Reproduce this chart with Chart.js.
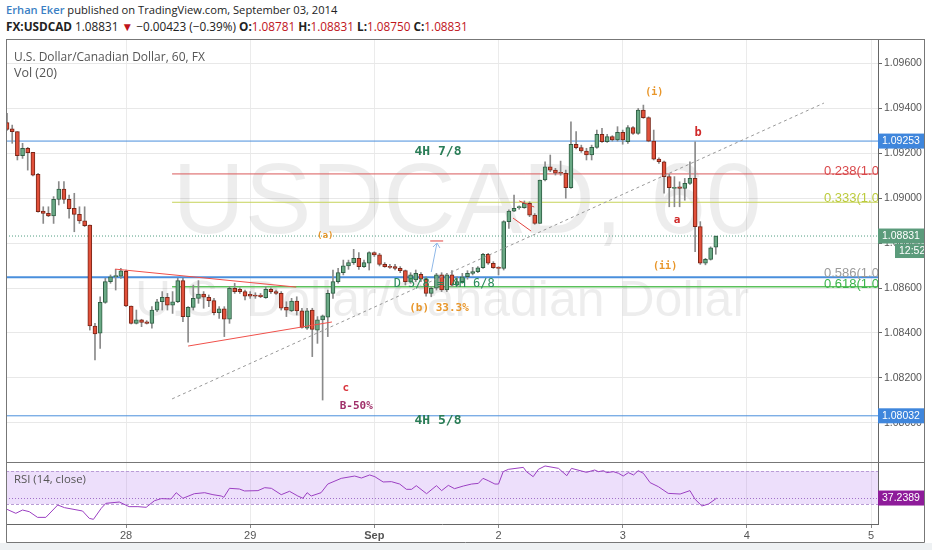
<!DOCTYPE html>
<html>
<head>
<meta charset="utf-8">
<script src="https://cdn.jsdelivr.net/npm/chart.js@4.4.1/dist/chart.umd.min.js"></script>
<style>
  body { margin: 0; width: 932px; height: 550px; background: #fff; position: relative; overflow: hidden; font-family: "Open Sans", Lato, sans-serif; }
  .fit { position: absolute; white-space: nowrap; display: inline-block; }
  #line1 { left: 6px; top: 2px; font-size: 12px; color: #222; }
  #line1 .author { color: #3b7fc4; font-weight: 600; }
  #line2 { left: 6px; top: 18px; font-size: 12.5px; color: #222; }
  #line2 b { font-weight: bold; }
  #line2 .r { color: #c0141b; }
  #line2 .dn { color: #c0141b; }
  #mainBox { position: absolute; left: 0; top: 39px; }
  #rsiBox { position: absolute; left: 0; top: 463px; }
  .pane { left: 14px; font-size: 12.5px; color: #555; }
  #foot { position: absolute; left: 0; top: 543px; width: 932px; height: 7px; background: #eef1f3; }
</style>
</head>
<body>
<div id="line1" class="fit" data-w="332"><span class="author">Erhan Eker</span> published on TradingView.com, September 03, 2014</div>
<div id="line2" class="fit" data-w="462"><b>FX:USDCAD</b> 1.08831 <span class="dn">▼</span> −0.00423 (−0.39%) <b>O:</b><span class="r">1.08781</span> <b>H:</b><span class="r">1.08831</span> <b>L:</b><span class="r">1.08750</span> <b>C:</b><span class="r">1.08831</span></div>
<canvas id="mainBox" width="925" height="424"></canvas>
<canvas id="rsiBox" width="925" height="80"></canvas>
<div class="pane fit" data-w="191" style="top:48px">U.S. Dollar/Canadian Dollar, 60, FX</div>
<div class="pane fit" style="top:64px">Vol (20)</div>
<div class="pane fit" data-w="72" style="top:471px;font-size:11.5px">RSI (14, close)</div>
<div id="foot"></div>
<script>
// scale header texts to the widths they take in the picture
document.querySelectorAll('.fit[data-w]').forEach(el => {
  const w = el.getBoundingClientRect().width;
  const fs = parseFloat(getComputedStyle(el).fontSize);
  const target = parseFloat(el.dataset.w);
  const nfs = Math.min(fs * target / w, fs * 1.2);
  el.style.fontSize = nfs + 'px';
  const w2 = el.getBoundingClientRect().width;
  const chars = el.textContent.length;
  if (w2 < target - 2) el.style.letterSpacing = ((target - w2) / chars) + 'px';
});

// hours counted from Aug 28 00:00, one candle per hour
const firstHour = -23;
const dayHours = [0, 24, 48, 72, 96, 120, 144];
const dayNames = ['28', '29', 'Sep', '2', '3', '4', '5'];

const opens = [
  1.09335, 1.09307, 1.09295, 1.09188, 1.09221, 1.09203, 1.09105, 1.08942, 1.08932, 1.08920,
  1.08994, 1.09040, 1.08994, 1.08954, 1.08927, 1.08898, 1.08880, 1.08431, 1.08399, 1.08536,
  1.08628, 1.08650, 1.08653, 1.08674, 1.08520, 1.08443, 1.08458, 1.08450, 1.08443, 1.08502,
  1.08539, 1.08559, 1.08524, 1.08539, 1.08633, 1.08473, 1.08514, 1.08554, 1.08573, 1.08559,
  1.08544, 1.08490, 1.08507, 1.08461, 1.08599, 1.08594, 1.08584, 1.08572, 1.08569, 1.08569,
  1.08557, 1.08594, 1.08584, 1.08576, 1.08514, 1.08498, 1.08542, 1.08498, 1.08421, 1.08502,
  1.08413, 1.08458, 1.08470, 1.08576, 1.08628, 1.08668, 1.08698, 1.08713, 1.08732, 1.08695,
  1.08710, 1.08757, 1.08747, 1.08705, 1.08695, 1.08695, 1.08687, 1.08677, 1.08628, 1.08636,
  1.08661, 1.08639, 1.08576, 1.08599, 1.08658, 1.08591, 1.08658, 1.08613, 1.08628, 1.08650,
  1.08665, 1.08673, 1.08690, 1.08750, 1.08710, 1.08690, 1.08687, 1.08895, 1.08942, 1.08957,
  1.08957, 1.08976, 1.08924, 1.08887, 1.09080, 1.09139, 1.09124, 1.09113, 1.09110, 1.09046,
  1.09239, 1.09224, 1.09209, 1.09191, 1.09225, 1.09283, 1.09250, 1.09273, 1.09258, 1.09292,
  1.09250, 1.09313, 1.09287, 1.09391, 1.09357, 1.09253, 1.09173, 1.09161, 1.09095, 1.09043,
  1.09050, 1.09043, 1.09065, 1.09087, 1.08873, 1.08710, 1.08727, 1.08781
];
const highs = [
  1.09376, 1.09324, 1.09295, 1.09243, 1.09225, 1.09203, 1.09110, 1.08961, 1.08961, 1.09006,
  1.09073, 1.09073, 1.09013, 1.09021, 1.08961, 1.08961, 1.08880, 1.08443, 1.08561, 1.08643,
  1.08658, 1.08683, 1.08687, 1.08680, 1.08520, 1.08502, 1.08461, 1.08455, 1.08517, 1.08550,
  1.08584, 1.08576, 1.08584, 1.08643, 1.08643, 1.08517, 1.08613, 1.08633, 1.08584, 1.08569,
  1.08554, 1.08517, 1.08517, 1.08606, 1.08621, 1.08601, 1.08591, 1.08584, 1.08579, 1.08576,
  1.08606, 1.08601, 1.08591, 1.08584, 1.08539, 1.08554, 1.08561, 1.08510, 1.08510, 1.08510,
  1.08473, 1.08480, 1.08591, 1.08680, 1.08687, 1.08724, 1.08724, 1.08772, 1.08757, 1.08724,
  1.08761, 1.08761, 1.08754, 1.08713, 1.08705, 1.08705, 1.08695, 1.08680, 1.08668, 1.08680,
  1.08668, 1.08650, 1.08606, 1.08665, 1.08668, 1.08665, 1.08677, 1.08650, 1.08665, 1.08677,
  1.08692, 1.08695, 1.08754, 1.08754, 1.08717, 1.08695, 1.08899, 1.08947, 1.09013, 1.08965,
  1.08987, 1.08983, 1.08931, 1.09080, 1.09161, 1.09191, 1.09132, 1.09164, 1.09124, 1.09339,
  1.09295, 1.09235, 1.09221, 1.09235, 1.09302, 1.09310, 1.09283, 1.09277, 1.09317, 1.09302,
  1.09322, 1.09317, 1.09398, 1.09413, 1.09361, 1.09302, 1.09179, 1.09164, 1.09105, 1.09095,
  1.09072, 1.09087, 1.09161, 1.09250, 1.08895, 1.08732, 1.08783, 1.08831
];
const lows = [
  1.09300, 1.09243, 1.09169, 1.09176, 1.09124, 1.09098, 1.08937, 1.08887, 1.08917, 1.08887,
  1.08969, 1.08976, 1.08910, 1.08850, 1.08887, 1.08873, 1.08413, 1.08280, 1.08332, 1.08532,
  1.08621, 1.08591, 1.08643, 1.08517, 1.08440, 1.08440, 1.08428, 1.08440, 1.08421, 1.08495,
  1.08502, 1.08502, 1.08487, 1.08535, 1.08450, 1.08359, 1.08502, 1.08532, 1.08510, 1.08517,
  1.08480, 1.08465, 1.08384, 1.08443, 1.08576, 1.08576, 1.08547, 1.08554, 1.08554, 1.08557,
  1.08554, 1.08576, 1.08572, 1.08502, 1.08473, 1.08495, 1.08480, 1.08421, 1.08416, 1.08295,
  1.08354, 1.08102, 1.08384, 1.08554, 1.08621, 1.08658, 1.08683, 1.08705, 1.08683, 1.08692,
  1.08680, 1.08740, 1.08698, 1.08692, 1.08687, 1.08680, 1.08668, 1.08613, 1.08621, 1.08628,
  1.08628, 1.08564, 1.08561, 1.08591, 1.08584, 1.08584, 1.08606, 1.08606, 1.08621, 1.08639,
  1.08658, 1.08668, 1.08687, 1.08705, 1.08687, 1.08658, 1.08680, 1.08865, 1.08939, 1.08950,
  1.08954, 1.08917, 1.08883, 1.08887, 1.09076, 1.09117, 1.09102, 1.09101, 1.08999, 1.09043,
  1.09218, 1.09203, 1.09169, 1.09169, 1.09221, 1.09247, 1.09247, 1.09253, 1.09253, 1.09239,
  1.09243, 1.09283, 1.09283, 1.09354, 1.09250, 1.09169, 1.09154, 1.09021, 1.08961, 1.08961,
  1.08961, 1.08990, 1.09060, 1.08761, 1.08705, 1.08703, 1.08724, 1.08750
];
const closes = [
  1.09305, 1.09295, 1.09188, 1.09221, 1.09201, 1.09102, 1.08939, 1.08932, 1.08920, 1.08994,
  1.09040, 1.08994, 1.08953, 1.08927, 1.08898, 1.08877, 1.08431, 1.08396, 1.08536, 1.08628,
  1.08650, 1.08655, 1.08676, 1.08520, 1.08443, 1.08458, 1.08447, 1.08443, 1.08502, 1.08539,
  1.08559, 1.08524, 1.08539, 1.08633, 1.08473, 1.08514, 1.08554, 1.08573, 1.08559, 1.08544,
  1.08490, 1.08507, 1.08461, 1.08599, 1.08584, 1.08584, 1.08564, 1.08564, 1.08564, 1.08561,
  1.08594, 1.08584, 1.08576, 1.08510, 1.08502, 1.08542, 1.08498, 1.08425, 1.08498, 1.08416,
  1.08458, 1.08476, 1.08576, 1.08628, 1.08668, 1.08698, 1.08713, 1.08732, 1.08695, 1.08713,
  1.08757, 1.08747, 1.08705, 1.08695, 1.08692, 1.08687, 1.08677, 1.08628, 1.08658, 1.08665,
  1.08639, 1.08576, 1.08599, 1.08658, 1.08591, 1.08658, 1.08613, 1.08628, 1.08650, 1.08665,
  1.08673, 1.08690, 1.08750, 1.08710, 1.08690, 1.08687, 1.08895, 1.08942, 1.08954, 1.08957,
  1.08976, 1.08924, 1.08887, 1.09080, 1.09139, 1.09124, 1.09110, 1.09110, 1.09046, 1.09239,
  1.09224, 1.09209, 1.09191, 1.09225, 1.09283, 1.09250, 1.09273, 1.09258, 1.09292, 1.09258,
  1.09313, 1.09287, 1.09391, 1.09357, 1.09253, 1.09173, 1.09161, 1.09095, 1.09046, 1.09046,
  1.09043, 1.09065, 1.09087, 1.08873, 1.08710, 1.08727, 1.08779, 1.08831
];

// RSI(14)
const rsiHours = [
  -23.0, -21.3, -20.0, -18.7, -17.1, -15.5, -13.2, -11.9, -8.4, -7.1, -6.3, -4.8, -3.9, -1.3,
  0.6, 2.3, 3.9, 5.5, 6.8, 8.7, 9.7, 11.0, 13.2, 15.2, 16.8, 18.4, 18.9, 20.0, 21.9, 22.9,
  25.5, 26.8, 28.1, 30.0, 31.6, 33.2, 34.2, 35.0, 35.8, 37.7, 39.0, 41.6, 44.2, 45.5, 47.1,
  48.1, 49.7, 51.3, 52.9, 54.2, 55.2, 56.1, 58.1, 60.0, 61.0, 62.3, 63.5, 65.2, 66.8, 68.1,
  69.0, 70.0, 71.3, 72.0, 72.9, 73.9, 76.8, 77.4, 78.7, 79.7, 81.0, 83.6, 85.2, 86.1, 89.0,
  90.6, 91.3, 92.3, 92.9, 94.2, 95.2, 96.1, 97.1, 98.1, 99.0, 100.0, 101.3, 102.9, 104.8,
  107.1, 109.0, 110.0, 111.3, 112.6, 114.2
];
const rsiValues = [
  23.5, 18.7, 22.7, 20.7, 13.8, 13.8, 28.8, 25.6, 21.5, 12.6, 11.4, 24.7, 30.8, 32.4,
  26.8, 26.8, 26.0, 34.0, 36.5, 36.1, 43.7, 36.9, 42.5, 43.7, 41.3, 39.7, 38.1, 49.0, 48.2, 45.8,
  46.2, 49.8, 49.0, 41.3, 45.4, 39.7, 36.9, 43.7, 39.7, 43.7, 54.2, 61.1, 63.9, 61.5, 65.2,
  63.1, 56.7, 57.1, 54.2, 47.8, 47.8, 52.2, 42.5, 52.2, 46.2, 52.6, 48.6, 51.8, 54.2, 55.0,
  61.1, 58.3, 54.2, 54.2, 69.2, 72.0, 74.4, 69.2, 63.1, 72.0, 76.1, 73.2, 64.3, 73.2, 68.4,
  71.2, 69.2, 70.4, 68.0, 69.2, 67.2, 63.9, 68.0, 65.2, 70.4, 67.2, 55.9, 51.0, 42.9,
  42.1, 46.2, 35.7, 27.6, 30.0, 37.2389
];

// drawn levels and trend lines
const levelPrices = [1.09253, 1.09107, 1.08981, 1.08831, 1.08648, 1.08606, 1.08032];
const levelFrom = [-23.2, 8.9, 8.9, -23.2, -23.2, 8.9, -23.2];
const levelTo = [145.35, 145.35, 145.35, 145.35, 145.35, 145.35, 145.35];
const levelColors = ['#4a8fdc', '#d9595a', '#c6d35a', '#4f9c80', '#4a8fdc', '#5cc15c', '#4a8fdc'];
const levelWidths = [1, 1, 1, 1, 2, 1.5, 1];

const trendHours = [[8.9, 134.9], [-2.1, 32.9], [12.0, 39.8], [76.0, 78.9], [74.8, 78.3], [58.8, 61.3]];
const trendPrices = [[1.08107, 1.09422], [1.08684, 1.08604], [1.08342, 1.08449], [1.08987, 1.08960], [1.08911, 1.08853], [1.08809, 1.08809]];
const trendColors = ['#999', '#f0504a', '#f0504a', '#e0433f', '#e0433f', '#e0433f'];
const trendDash = [[3, 3], [], [], [], [], []];

const arrowHours = [59.0, 60.1];
const arrowPrices = [1.08671, 1.08800];

const fibFont = '13px "Liberation Sans", Arial, sans-serif';
const notes = [
  { t: '4H 7/8', h: 60.3, v: 1.09204, c: '#2a7d57', f: 'bold 13px "DejaVu Sans Mono"', a: 'center' },
  { t: '4H 5/8', h: 60.3, v: 1.08009, c: '#2a7d57', f: 'bold 13px "DejaVu Sans Mono"', a: 'center' },
  { t: '0.238(1.000)', h: 134.9, v: 1.09116, c: '#d9474a', f: fibFont, a: 'left' },
  { t: '0.333(1.000)', h: 134.9, v: 1.08996, c: '#bccb3c', f: fibFont, a: 'left' },
  { t: '0.586(1.000)', h: 134.9, v: 1.08667, c: '#9a9a9a', f: fibFont, a: 'left' },
  { t: '0.618(1.000)', h: 134.9, v: 1.08618, c: '#3cb44b', f: fibFont, a: 'left' },
  { t: '(a)', h: 38.5, v: 1.08831, c: '#e8962a', f: 'bold 9px "DejaVu Sans Mono"', a: 'center' },
  { t: 'D 5/8 = 4H 6/8', h: 61.5, v: 1.08618, c: '#2a8a5a', f: '12px "DejaVu Sans Mono"', a: 'center' },
  { t: '(b) 33.3%', h: 60.5, v: 1.08511, c: '#e8962a', f: 'bold 11px "DejaVu Sans Mono"', a: 'center' },
  { t: 'c', h: 42.5, v: 1.08156, c: '#d9363e', f: 'bold 11px "DejaVu Sans Mono"', a: 'center' },
  { t: 'B-50%', h: 44.5, v: 1.08076, c: '#a0306a', f: 'bold 11px "DejaVu Sans Mono"', a: 'center' },
  { t: '(i)', h: 102.1, v: 1.09471, c: '#e8962a', f: 'bold 10px "DejaVu Sans Mono"', a: 'center' },
  { t: 'b', h: 110.6, v: 1.09289, c: '#d02a2a', f: 'bold 12px "DejaVu Sans Mono"', a: 'center' },
  { t: 'a', h: 106.5, v: 1.08902, c: '#d02a2a', f: 'bold 11px "DejaVu Sans Mono"', a: 'center' },
  { t: '(ii)', h: 104.2, v: 1.08698, c: '#e8962a', f: 'bold 10px "DejaVu Sans Mono"', a: 'center' }
];

const upFill = '#6aa985', upLine = '#2f5f44';
const downFill = '#e1503a', downLine = '#7a2618';

const candleHours = opens.map((o, i) => firstHour + i);
const up = closes.map((c, i) => c >= opens[i]);

const datasets = [];
levelPrices.forEach((p, i) => {
  datasets.push({
    type: 'line', order: 5,
    data: [{ x: levelFrom[i], y: p }, { x: levelTo[i], y: p }],
    borderColor: levelColors[i], borderWidth: levelWidths[i],
    borderDash: i === 3 ? [1, 2] : [], pointRadius: 0
  });
});
datasets.push({
  type: 'bar', order: 3, grouped: false, barThickness: 1,
  data: candleHours.map((h, i) => ({ x: h, y: [lows[i], highs[i]] })),
  backgroundColor: '#8a8a8a'
});
datasets.push({
  type: 'bar', order: 2, grouped: false, barThickness: 4, minBarLength: 1,
  data: candleHours.map((h, i) => ({ x: h, y: [opens[i], closes[i]] })),
  backgroundColor: up.map(u => u ? upFill : downFill),
  borderColor: up.map(u => u ? upLine : downLine),
  borderWidth: 1, borderSkipped: false
});
trendHours.forEach((hh, i) => {
  datasets.push({
    type: 'line', order: 1,
    data: [{ x: hh[0], y: trendPrices[i][0] }, { x: hh[1], y: trendPrices[i][1] }],
    borderColor: trendColors[i], borderWidth: 1, borderDash: trendDash[i], pointRadius: 0
  });
});
datasets.push({
  type: 'line', order: 1,
  data: [{ x: arrowHours[0], y: arrowPrices[0] }, { x: arrowHours[1], y: arrowPrices[1] }],
  borderColor: '#8fb8e8', borderWidth: 1, pointRadius: 0
});

function tag(ctx, x, y, w, h, bg, text) {
  ctx.fillStyle = bg;
  ctx.fillRect(x, y - h / 2, w, h);
  ctx.fillStyle = '#fff';
  ctx.textAlign = 'left';
  ctx.textBaseline = 'middle';
  ctx.fillText(text, x + 4, y + 0.5);
}

const mainPlugin = {
  id: 'mainDeco',
  beforeDatasetsDraw(chart) {
    const ctx = chart.ctx, a = chart.chartArea;
    ctx.save();
    ctx.beginPath();
    ctx.rect(a.left, a.top, a.right - a.left, a.bottom - a.top);
    ctx.clip();
    ctx.fillStyle = 'rgba(0,0,0,0.07)';
    ctx.textAlign = 'center';
    ctx.textBaseline = 'middle';
    ctx.font = '100px "Liberation Sans", Arial, sans-serif';
    ctx.fillText('USDCAD, 60', 467, 166);
    ctx.font = '50px "Liberation Sans", Arial, sans-serif';
    ctx.fillText('U.S. Dollar/Canadian Dollar', 442, 263);
    ctx.restore();
  },
  afterDatasetsDraw(chart) {
    const ctx = chart.ctx, a = chart.chartArea;
    const xs = chart.scales.x, ys = chart.scales.y;
    ctx.save();
    ctx.beginPath();
    ctx.rect(a.left, a.top, a.right - a.left, a.bottom - a.top);
    ctx.clip();
    // arrow head
    const ax = xs.getPixelForValue(arrowHours[1]), ay = ys.getPixelForValue(arrowPrices[1]);
    ctx.strokeStyle = '#8fb8e8';
    ctx.beginPath();
    ctx.moveTo(ax - 4, ay + 4); ctx.lineTo(ax, ay); ctx.lineTo(ax + 3, ay + 5);
    ctx.stroke();
    notes.forEach(n => {
      ctx.font = n.f;
      ctx.fillStyle = n.c;
      ctx.textAlign = n.a;
      ctx.textBaseline = 'middle';
      ctx.fillText(n.t, xs.getPixelForValue(n.h), ys.getPixelForValue(n.v));
    });
    ctx.restore();
  },
  afterDraw(chart) {
    const ctx = chart.ctx, a = chart.chartArea, ys = chart.scales.y;
    ctx.save();
    ctx.font = '10.5px "Liberation Sans", Arial, sans-serif';
    ctx.fillStyle = '#555';
    ctx.textAlign = 'left';
    ctx.textBaseline = 'middle';
    ys.ticks.forEach(t => {
      ctx.fillText(t.value.toFixed(5), a.right + 6, ys.getPixelForValue(t.value));
    });
    tag(ctx, a.right, ys.getPixelForValue(levelPrices[0]), 47, 15, '#3f86dc', levelPrices[0].toFixed(5));
    const cy = ys.getPixelForValue(closes[closes.length - 1]);
    tag(ctx, a.right, cy, 47, 15, '#5b9b7b', closes[closes.length - 1].toFixed(5));
    tag(ctx, a.right + 17, cy + 15, 30, 14, '#5b9b7b', '12:52');
    tag(ctx, a.right, ys.getPixelForValue(levelPrices[6]), 47, 15, '#3f86dc', levelPrices[6].toFixed(5));
    ctx.strokeStyle = '#777';
    ctx.lineWidth = 1;
    ctx.strokeRect(a.left + 0.5, 0.5, 924 - a.left, 423);
    ctx.restore();
  }
};

new Chart(document.getElementById('mainBox'), {
  type: 'bar',
  data: { datasets: datasets },
  options: {
    responsive: false, animation: false,
    layout: { padding: { left: 6, right: 0, top: 0, bottom: 0 } },
    plugins: { legend: { display: false }, tooltip: { enabled: false } },
    scales: {
      x: {
        type: 'linear', min: -23.2, max: 145.35, offset: false,
        afterBuildTicks: s => { s.ticks = dayHours.map(v => ({ value: v })); },
        ticks: { display: false },
        grid: { color: '#ebebeb', drawTicks: false, offset: false },
        border: { display: false },
        afterFit: s => { s.height = 0; }
      },
      y: {
        position: 'right', min: 1.0782222, max: 1.0970667,
        ticks: { display: false, stepSize: 0.002, includeBounds: false },
        grid: { color: '#e8e8e8', tickColor: '#666', tickLength: 4 },
        border: { color: '#666' },
        afterFit: s => { s.width = 47; }
      }
    }
  },
  plugins: [mainPlugin]
});

const rsiPlugin = {
  id: 'rsiDeco',
  beforeDatasetsDraw(chart) {
    const ctx = chart.ctx, a = chart.chartArea, ys = chart.scales.y;
    const y70 = ys.getPixelForValue(70), y30 = ys.getPixelForValue(30);
    ctx.save();
    ctx.fillStyle = 'rgba(165, 95, 235, 0.2)';
    ctx.fillRect(a.left, y70, a.right - a.left, y30 - y70);
    ctx.strokeStyle = '#b99cd6';
    ctx.setLineDash([3, 2]);
    [y70, y30].forEach(y => {
      ctx.beginPath(); ctx.moveTo(a.left, Math.round(y) + 0.5); ctx.lineTo(a.right, Math.round(y) + 0.5); ctx.stroke();
    });
    const last = rsiValues[rsiValues.length - 1];
    const yl = Math.round(ys.getPixelForValue(last)) + 0.5;
    ctx.strokeStyle = '#a070c8';
    ctx.setLineDash([1, 2]);
    ctx.beginPath(); ctx.moveTo(a.left, yl); ctx.lineTo(a.right, yl); ctx.stroke();
    ctx.restore();
  },
  afterDraw(chart) {
    const ctx = chart.ctx, a = chart.chartArea, ys = chart.scales.y;
    const last = rsiValues[rsiValues.length - 1];
    ctx.save();
    ctx.font = '10.5px "Liberation Sans", Arial, sans-serif';
    tag(ctx, a.right, ys.getPixelForValue(last), 47, 15, '#8e1b9a', last.toFixed(4));
    ctx.strokeStyle = '#777';
    ctx.beginPath();
    ctx.moveTo(a.left + 0.5, 0); ctx.lineTo(a.left + 0.5, 79.5); ctx.lineTo(924.5, 79.5); ctx.lineTo(924.5, 0);
    ctx.stroke();
    ctx.restore();
  }
};

new Chart(document.getElementById('rsiBox'), {
  type: 'line',
  data: {
    datasets: [{
      data: rsiHours.map((h, i) => ({ x: h, y: rsiValues[i] })),
      borderColor: '#9b3fc2', borderWidth: 1, pointRadius: 0, tension: 0
    }]
  },
  options: {
    responsive: false, animation: false,
    layout: { padding: { left: 6, right: 0, top: 0, bottom: 0 } },
    plugins: { legend: { display: false }, tooltip: { enabled: false } },
    scales: {
      x: {
        type: 'linear', min: -23.2, max: 145.35,
        afterBuildTicks: s => { s.ticks = dayHours.map(v => ({ value: v })); },
        ticks: {
          autoSkip: false, maxRotation: 0, padding: 1, color: '#555',
          callback: v => dayNames[dayHours.indexOf(v)],
          font: c => ({ size: 11, family: '"Liberation Sans", Arial, sans-serif', weight: c.tick && c.tick.value === 48 ? 'bold' : 'normal' })
        },
        grid: { color: '#ebebeb', tickColor: '#888', tickLength: 4 },
        border: { color: '#666' },
        afterFit: s => { s.height = 19; }
      },
      y: {
        position: 'right', min: 5.76, max: 79.7,
        ticks: { display: false },
        grid: { display: false },
        border: { color: '#666' },
        afterFit: s => { s.width = 47; }
      }
    }
  },
  plugins: [rsiPlugin]
});
</script>
</body>
</html>
